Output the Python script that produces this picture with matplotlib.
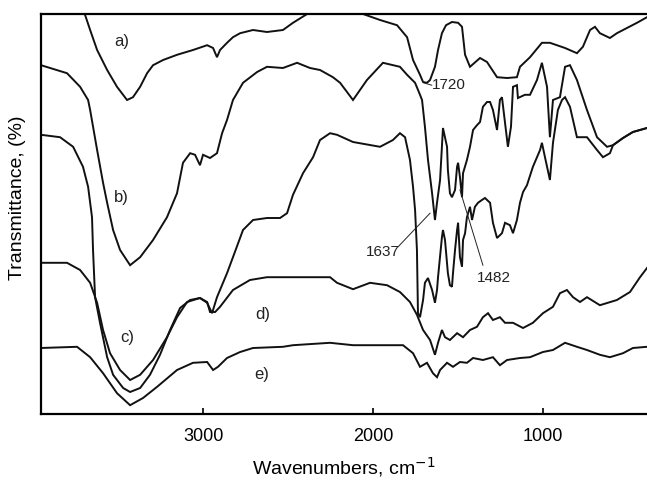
import numpy as np
import matplotlib.pyplot as plt

plt.rcParams['font.family'] = ['Liberation Sans', 'DejaVu Sans']

# FTIR spectra, wavenumber (cm-1) vs transmittance (arbitrary offsets)
wn_a = [3723, 3694, 3664, 3623, 3564, 3506, 3447, 3412, 3370, 3329, 3294, 3235, 3153, 3059,
        2976, 2941, 2918, 2900, 2859, 2824, 2782, 2706, 2624, 2530, 2471, 2388, 2312, 2194,
        2118, 2059, 1959, 1859, 1800, 1765, 1724, 1706, 1683, 1665, 1636, 1618, 1595, 1571,
        1536, 1500, 1477, 1459, 1430, 1371, 1330, 1271, 1212, 1154, 1136, 1077, 1007, 960,
        871, 801, 766, 724, 695, 666, 607, 566, 507, 448, 389]
t_a = [102.2, 99.8, 96, 91, 86, 81.8, 78.5, 79.2, 81.8, 85.2, 87.2, 88.5, 89.8, 91,
       92.2, 91.5, 89.2, 91, 92.8, 94.2, 95.2, 96, 95.5, 96, 97.8, 100, 101.5, 102.2,
       101.5, 100, 98.5, 97.2, 94.2, 88.5, 84.8, 83, 82.8, 83.5, 86.8, 91, 95.2, 97.2,
       98, 97.8, 96.8, 89.8, 86.8, 89, 88, 84.2, 84, 84.2, 86.8, 89.2, 92.8, 92.8,
       91.5, 90.2, 91.8, 96, 96.8, 95.2, 94, 95.2, 96.5, 97.8, 99.2]

wn_b = [3953, 3800, 3723, 3676, 3664, 3623, 3588, 3564, 3529, 3488, 3429, 3370, 3294, 3212,
        3153, 3118, 3076, 3047, 3018, 3000, 2959, 2918, 2888, 2859, 2824, 2765, 2682, 2624,
        2530, 2447, 2371, 2312, 2236, 2194, 2118, 2036, 1942, 1842, 1800, 1753, 1724, 1712,
        1695, 1677, 1653, 1636, 1624, 1606, 1589, 1565, 1560, 1548, 1536, 1518, 1506, 1500,
        1489, 1477, 1471, 1448, 1430, 1412, 1389, 1371, 1354, 1330, 1312, 1295, 1271, 1254,
        1242, 1224, 1207, 1189, 1177, 1154, 1148, 1107, 1077, 1036, 1007, 977, 960, 942,
        901, 871, 842, 801, 742, 683, 624, 589, 530, 472, 389]
t_b = [87.2, 85.2, 81.8, 78.5, 76, 66, 57.8, 52.8, 46, 41, 37.2, 39.2, 43.5, 49.2,
       55.2, 62.8, 65.2, 64.8, 62.2, 64.8, 64, 65.2, 70.2, 73.5, 78.5, 82.8, 85.5, 86.8,
       86.5, 87.8, 86.5, 86, 84.2, 82.8, 78.5, 83.5, 87.8, 86.8, 84.8, 82.8, 79.8, 78.5,
       71.8, 63.5, 55.2, 48.5, 52.8, 58.5, 71.5, 66.8, 61, 55.2, 54.2, 56, 61.8, 62.8,
       59.2, 54.2, 60.2, 63.5, 66.8, 71, 72.2, 73, 76.8, 78, 78, 76, 71, 78.5,
       79.2, 72.8, 66.8, 71.8, 81.8, 82.2, 79, 79.8, 79.8, 83.5, 87.8, 81.8, 69.2, 78.5,
       79.2, 86.8, 87.2, 83.5, 76, 69.2, 66.8, 67.2, 69, 70.5, 71.5]

wn_c = [3953, 3841, 3764, 3706, 3676, 3653, 3647, 3635, 3606, 3564, 3529, 3470, 3429, 3370,
        3312, 3253, 3194, 3135, 3076, 3018, 2976, 2947, 2918, 2859, 2824, 2765, 2706, 2624,
        2547, 2506, 2471, 2412, 2353, 2312, 2253, 2212, 2118, 1959, 1883, 1842, 1812, 1783,
        1765, 1753, 1742, 1736, 1724, 1706, 1695, 1677, 1653, 1636, 1624, 1618, 1595, 1589,
        1577, 1560, 1548, 1536, 1530, 1518, 1506, 1500, 1489, 1477, 1471, 1459, 1448, 1430,
        1418, 1401, 1383, 1360, 1342, 1312, 1295, 1271, 1242, 1224, 1195, 1177, 1154, 1136,
        1118, 1095, 1060, 1018, 1007, 989, 960, 942, 913, 889, 871, 842, 801, 742,
        683, 648, 607, 589, 530, 472, 389]
t_c = [69.8, 69.2, 66.8, 61.8, 56.8, 49.2, 41, 29.2, 22.8, 14.2, 9.8, 6.5, 5.5, 6.5,
       9.8, 14.8, 21, 26.5, 28.5, 29, 27.8, 25.2, 29.2, 35.2, 39.2, 46, 48.5, 49,
       49, 50.2, 54.8, 60.2, 64.2, 68.5, 70.2, 69.8, 68, 66.8, 68.5, 70.2, 69.2, 63.5,
       56.8, 51, 41, 25.2, 24.2, 28.5, 32.8, 34, 31, 27.8, 31, 34.2, 44.2, 46,
       43.5, 35.2, 32.2, 31.8, 35.2, 41, 46, 47.8, 39.2, 36.8, 43.5, 45.2, 49.2, 51.8,
       48.5, 51.8, 52.8, 53.5, 54, 52.8, 47.8, 44, 45.2, 47.8, 47.2, 45.2, 48.5, 52.8,
       55.5, 57.2, 61.8, 66, 67.8, 64.2, 58.5, 67.8, 76, 78.5, 79.2, 76.8, 69.2, 69.2,
       66, 64.2, 65.2, 67.2, 69, 70.5, 71.5]

wn_d = [3953, 3800, 3723, 3664, 3623, 3588, 3547, 3488, 3429, 3370, 3294, 3212, 3153, 3094,
        3018, 2976, 2959, 2929, 2900, 2824, 2724, 2624, 2430, 2253, 2212, 2118, 2018, 1918,
        1842, 1783, 1742, 1706, 1665, 1636, 1618, 1595, 1577, 1548, 1506, 1471, 1430, 1389,
        1354, 1324, 1295, 1254, 1224, 1177, 1118, 1060, 1001, 942, 901, 860, 824, 783,
        742, 666, 566, 489, 430, 389]
t_d = [37.8, 37.8, 36, 32.8, 27.8, 21, 15.2, 11, 8.5, 9.8, 13.5, 19.2, 24.2, 28,
       29, 28, 25.5, 25.5, 26.8, 31, 33.5, 34.2, 34.2, 34.2, 32.8, 31.2, 32.8, 32.2,
       30.5, 28, 24.8, 21, 18.5, 14.8, 17.8, 21, 19.2, 18.5, 20.2, 19.2, 21, 21.8,
       24.2, 25.2, 23.5, 24.2, 22.8, 22.8, 21.5, 22.8, 25.2, 26.8, 30.2, 31, 29.2, 28,
       29.2, 27.2, 28.5, 30.5, 34.2, 36.5]

wn_e = [3953, 3741, 3664, 3588, 3506, 3429, 3353, 3270, 3153, 3059, 2976, 2941, 2912, 2859,
        2782, 2706, 2530, 2471, 2253, 2118, 1824, 1765, 1724, 1683, 1648, 1624, 1606, 1565,
        1530, 1489, 1448, 1412, 1354, 1295, 1254, 1212, 1136, 1077, 1001, 942, 871, 801,
        742, 666, 607, 530, 472, 389]
t_e = [16.5, 16.8, 14.2, 10.2, 5.2, 2.2, 4, 6.8, 11, 12.8, 13, 11, 11.8, 14,
       15.5, 16.5, 16.8, 17.2, 17.8, 17.2, 17.2, 15.2, 11.8, 12.8, 10.2, 9.2, 11, 12.8,
       11.8, 13, 12.8, 14, 13.5, 14.2, 12.2, 13.5, 14, 14.2, 15.5, 16, 17.8, 16.8,
       16, 14.8, 14.2, 15.2, 16.5, 16.8]

curve_labels = ['a)', 'b)', 'c)', 'd)', 'e)']
label_wn = [3476, 3482, 3447, 2647, 2653]
label_t = [93, 54.2, 19.2, 24.8, 9.8]

peaks = ['1720', '1637', '1482']
peak_text = [(1652, 82.2), (1942, 40.5), (1289, 34)]
peak_point = [(1703, 82.8), (1665, 50.2), (1489, 56)]
peak_start = [(1655, 82.2), (1853, 41.8), (1354, 37.2)]

fig = plt.figure(figsize=(6.47, 4.82), dpi=100)
ax = fig.add_axes([41/647, 68/482, 606/647, 400/482])

for wn, t in [(wn_a, t_a), (wn_b, t_b), (wn_c, t_c), (wn_d, t_d), (wn_e, t_e)]:
    ax.plot(wn, t, color='#111111', lw=1.4, solid_joinstyle='miter')

for lab, x, y in zip(curve_labels, label_wn, label_t):
    ax.text(x, y, lab, fontsize=12, ha='center', va='center', color='#222222')

# peak annotations: thin leader line from the label to the band
for lab, (tx, ty), (px, py), (sx, sy) in zip(peaks, peak_text, peak_point, peak_start):
    ax.plot([sx, px], [sy, py], color='#222222', lw=0.7)
ax.text(*peak_text[0], peaks[0], fontsize=11, ha='left', va='center', color='#222222')
ax.text(*peak_text[1], peaks[1], fontsize=11, ha='center', va='center', color='#222222')
ax.text(*peak_text[2], peaks[2], fontsize=11, ha='center', va='center', color='#222222')

ax.set_xlim(3953, 389)
ax.set_ylim(0, 100)
ax.set_xticks([3000, 2000, 1000])
ax.set_yticks([])
ax.tick_params(axis='x', direction='in', length=4, width=1.2, labelsize=13, pad=10)
for side in ['left', 'top', 'bottom']:
    ax.spines[side].set_linewidth(1.6)
ax.spines['right'].set_visible(False)

ax.set_xlabel(r'Wavenumbers, cm$^{-1}$', fontsize=14)
ax.set_ylabel('Transmittance, (%)', fontsize=14)
ax.xaxis.set_label_coords(0.5, -0.103)
ax.yaxis.set_label_coords(-0.024, 0.54)

fig.savefig('out.png', dpi=100)
